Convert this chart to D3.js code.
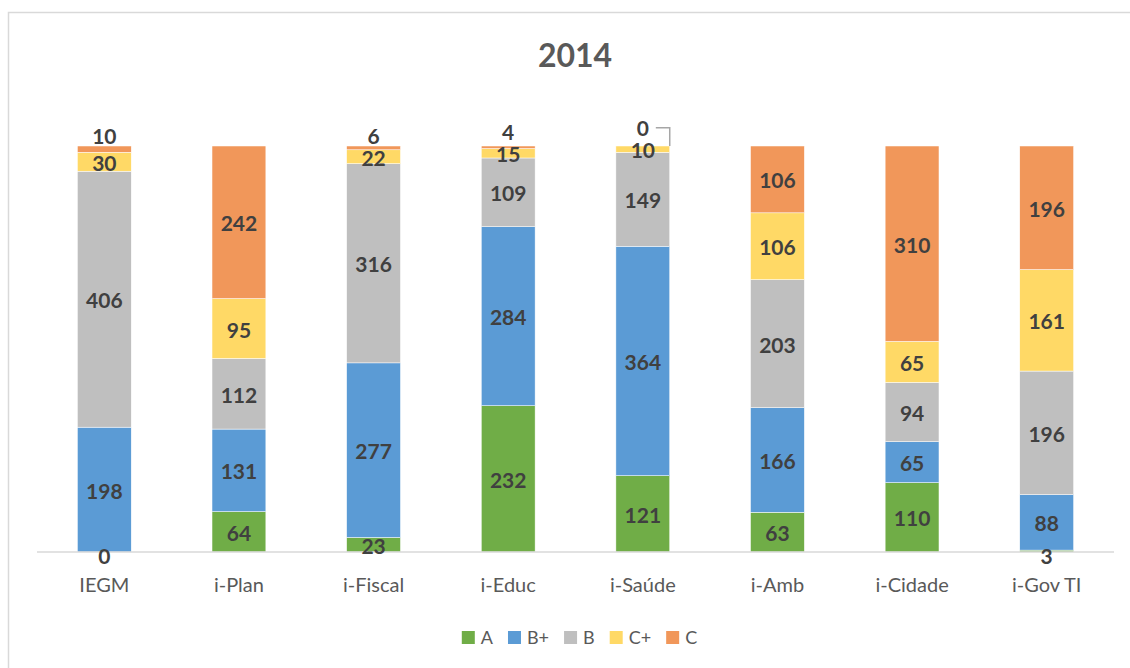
<!DOCTYPE html>
<html>
<head>
<meta charset="utf-8">
<script src="https://cdn.jsdelivr.net/npm/d3@7"></script>
<style>
    body { margin: 0; background: #fff; }
    svg text { font-family: Lato, "Open Sans", sans-serif; }
</style>
</head>
<body>
<div id="stacked-chart"></div>
<script>
var categories = ["IEGM", "i-Plan", "i-Fiscal", "i-Educ", "i-Saúde", "i-Amb", "i-Cidade", "i-Gov TI"];
var seriesNames = ["A", "B+", "B", "C+", "C"];
var valuesA = [0, 64, 23, 232, 121, 63, 110, 3];
var valuesBplus = [198, 131, 277, 284, 364, 166, 65, 88];
var valuesB = [406, 112, 316, 109, 149, 203, 94, 196];
var valuesCplus = [30, 95, 22, 15, 10, 106, 65, 161];
var valuesC = [10, 242, 6, 4, 0, 106, 310, 196];
var seriesColors = ["#70AD47", "#5B9BD5", "#BFBFBF", "#FFD966", "#F1975A"];
var chartTitle = "2014";

/**
 * Constructor for the StackedChart
 */
function StackedChart() {
    var self = this;
    self.init();
}

/**
 * Builds the svg, scales, bars, labels and legend
 */
StackedChart.prototype.init = function () {
    var self = this;
    self.width = 1130;
    self.height = 668;
    self.plot = {left: 37, right: 1114, top: 146, bottom: 552};

    self.svg = d3.select("#stacked-chart").append("svg")
        .attr("width", self.width)
        .attr("height", self.height);

    // chart frame, runs past the right and bottom edge like the screenshot
    self.svg.append("rect")
        .attr("x", 8.5).attr("y", 12.5)
        .attr("width", 1300).attr("height", 800)
        .attr("fill", "none")
        .attr("stroke", "#D9D9D9")
        .attr("stroke-width", 1.5);

    self.svg.append("text")
        .attr("x", 575).attr("y", 67)
        .attr("text-anchor", "middle")
        .style("font-size", "32px")
        .style("font-weight", "bold")
        .attr("fill", "#595959")
        .text(chartTitle);

    var allSeries = [valuesA, valuesBplus, valuesB, valuesCplus, valuesC];
    var table = categories.map(function (c, i) {
        var row = {category: c};
        seriesNames.forEach(function (s, j) { row[s] = allSeries[j][i]; });
        return row;
    });

    var stack = d3.stack().keys(seriesNames).offset(d3.stackOffsetExpand);
    self.layers = stack(table);

    self.xScale = d3.scaleBand()
        .domain(categories)
        .range([self.plot.left, self.plot.right])
        .paddingInner(0.6)
        .paddingOuter(0.3);
    self.yScale = d3.scaleLinear()
        .domain([0, 1])
        .range([self.plot.bottom, self.plot.top]);
    self.color = d3.scaleOrdinal().domain(seriesNames).range(seriesColors);

    // bars
    self.svg.append("g").attr("id", "bars")
        .selectAll("g")
        .data(self.layers)
        .enter().append("g")
        .attr("fill", function (d) { return self.color(d.key); })
        .selectAll("rect")
        .data(function (d) { return d; })
        .enter().append("rect")
        .attr("x", function (d) { return self.xScale(d.data.category); })
        .attr("y", function (d) { return self.yScale(d[1]); })
        .attr("width", self.xScale.bandwidth())
        .attr("height", function (d) { return self.yScale(d[0]) - self.yScale(d[1]); })
        .attr("stroke", "#fff")
        .attr("stroke-width", 0.5);

    // baseline
    self.svg.append("line")
        .attr("x1", self.plot.left).attr("x2", self.plot.right)
        .attr("y1", self.plot.bottom).attr("y2", self.plot.bottom)
        .attr("stroke", "#D9D9D9")
        .attr("stroke-width", 1.5);

    // x axis, no ticks or domain line
    var xAxis = self.svg.append("g")
        .attr("transform", "translate(0," + self.plot.bottom + ")")
        .call(d3.axisBottom(self.xScale).tickSize(0).tickPadding(40));
    xAxis.select(".domain").remove();
    xAxis.selectAll("text")
        .style("font-size", "20px")
        .attr("fill", "#595959")
        .attr("dy", 0);

    self.drawLabels();
    self.drawLegend();
};

/**
 * Value labels, with small top segments pushed above the bar
 */
StackedChart.prototype.drawLabels = function () {
    var self = this;
    var gap = 22;
    var labels = self.svg.append("g").attr("id", "labels");

    categories.forEach(function (c, i) {
        var prev = null;
        var cx = self.xScale(c) + self.xScale.bandwidth() / 2;
        self.layers.forEach(function (layer, j) {
            var d = layer[i];
            var y0 = self.yScale(d[0]), y1 = self.yScale(d[1]);
            var mid = (y0 + y1) / 2 + 1.5;
            var y = mid;
            if (j === 0 && y0 - y1 < 8) y = self.plot.bottom + 4;
            if (j === self.layers.length - 1 && y0 - y1 < 16) y = self.plot.top - 10;
            if (prev !== null && prev - y < gap) y = prev - gap;
            prev = y;

            labels.append("text")
                .attr("x", cx)
                .attr("y", y + 7.5)
                .attr("text-anchor", "middle")
                .style("font-size", "21px")
                .style("font-weight", "bold")
                .attr("fill", "#404040")
                .text(d.data[layer.key]);

            // leader line when label moved far from its segment
            if (mid - y > 17) {
                var right = self.xScale(c) + self.xScale.bandwidth();
                labels.append("path")
                    .attr("d", "M" + (cx + 13) + "," + (y - 1) + "H" + right + "V" + y1)
                    .attr("fill", "none")
                    .attr("stroke", "#A6A6A6")
                    .attr("stroke-width", 1.5);
            }
        });
    });
};

/**
 * Legend centered under the chart
 */
StackedChart.prototype.drawLegend = function () {
    var self = this;
    var legend = self.svg.append("g").attr("id", "legend");
    var x = 0;
    seriesNames.forEach(function (s) {
        var item = legend.append("g").attr("transform", "translate(" + x + ",0)");
        item.append("rect")
            .attr("x", 0).attr("y", 631)
            .attr("width", 13).attr("height", 13)
            .attr("fill", self.color(s));
        var t = item.append("text")
            .attr("x", 19).attr("y", 644)
            .style("font-size", "18px")
            .attr("fill", "#595959")
            .text(s);
        x += 19 + t.node().getComputedTextLength() + 15;
    });
    var total = x - 15;
    legend.attr("transform", "translate(" + (579.5 - total / 2) + ",0)");
};

var chart = new StackedChart();
</script>
</body>
</html>
